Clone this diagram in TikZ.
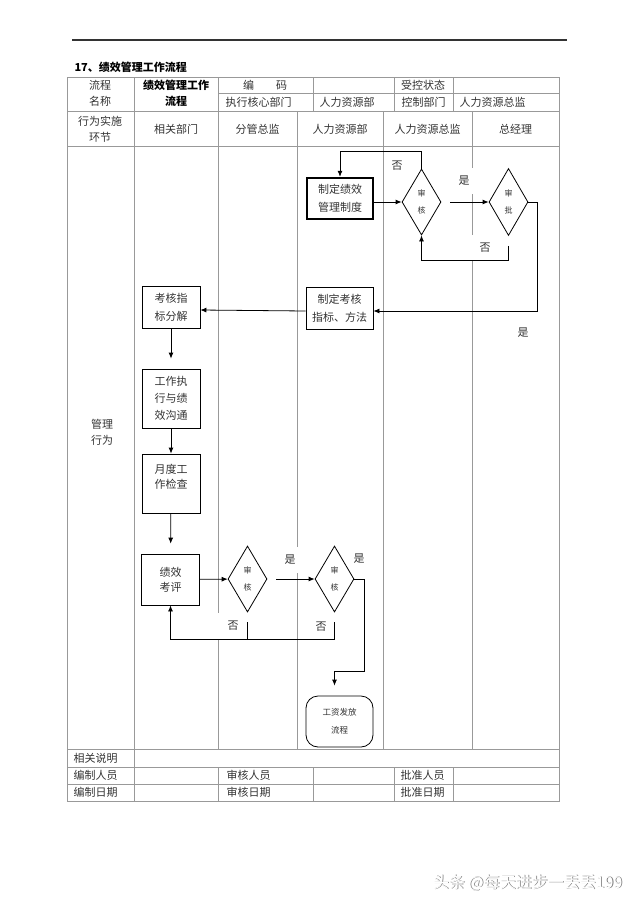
\documentclass[tikz,border=0pt]{standalone}
\usepackage{fontspec}
\setmainfont{Noto Sans CJK SC}
\usetikzlibrary{arrows,arrows.meta,shapes.geometric}

\begin{document}
\begin{tikzpicture}
      [x=1pt,y=-1pt,>={Latex[length=6pt,width=5pt]},every node/.style={text=black!80,align=center,font=\fontsize{11}{16}\selectfont}]

      \tikzstyle{grid} = [draw=black!40,line width=0.9pt]
      \tikzstyle{box} = [draw=black,line width=0.8pt,minimum width=58pt,minimum height=42pt,inner sep=1pt,font=\fontsize{11}{18}\selectfont]
      \tikzstyle{dia} = [draw=black,diamond,line width=0.8pt,minimum width=39pt,minimum height=66pt,inner sep=0pt,font=\fontsize{8}{17}\selectfont]
      \tikzstyle{flow} = [->,line width=0.8pt]
      \tikzstyle{gap} = [fill=white,minimum width=28pt,minimum height=26pt,inner sep=0pt]

      \useasboundingbox (0,0) rectangle (640,905);

      % title
      \draw[line width=1.1pt,black!80] (72,40) -- (567,40);
      \node[anchor=west,text=black,font=\bfseries\fontsize{11}{14}\selectfont] (title) at (71,67) {17、绩效管理工作流程};

      % table and lanes
      \draw[grid] (67,77) rectangle (559,801);
      \draw[grid] (218,93) -- (559,93);
      \foreach \y in {111,146,749,767,784}
            \draw[grid] (67,\y) -- (559,\y);
      \draw[grid] (134,77) -- (134,801);
      \draw[grid] (218,77) -- (218,749) (218,767) -- (218,801);
      \foreach \x in {313,394,453}
            \draw[grid] (\x,77) -- (\x,111) (\x,767) -- (\x,801);
      \foreach \x in {297,383,472}
            \draw[grid] (\x,111) -- (\x,749);

      % header texts
      \node (h1) at (100,93) {流程\\名称};
      \node[font=\bfseries\fontsize{11}{16}\selectfont,text=black] (h2) at (176,93) {绩效管理工作\\流程};
      \node (h3) at (265,85) {编\quad\quad 码};
      \node (h4) at (423,85) {受控状态};
      \node[anchor=west] (h5) at (222,102) {执行核心部门};
      \node[anchor=west] (h6) at (316,102) {人力资源部};
      \node[anchor=west] (h7) at (398,102) {控制部门};
      \node[anchor=west] (h8) at (456,102) {人力资源总监};
      \node (h9) at (100,129) {行为实施\\环节};
      \node (l1) at (176,129) {相关部门};
      \node (l2) at (257.5,129) {分管总监};
      \node (l3) at (340,129) {人力资源部};
      \node (l4) at (427.5,129) {人力资源总监};
      \node (l5) at (515.5,129) {总经理};
      \node (act) at (102,432) {管理\\行为};

      % footer texts
      \node[anchor=west] (f1) at (70,758) {相关说明};
      \node[anchor=west] (f2) at (70,775.5) {编制人员};
      \node[anchor=west] (f3) at (70,792.5) {编制日期};
      \node[anchor=west] (f4) at (223,775.5) {审核人员};
      \node[anchor=west] (f5) at (223,792.5) {审核日期};
      \node[anchor=west] (f6) at (397,775.5) {批准人员};
      \node[anchor=west] (f7) at (397,792.5) {批准日期};

      % labels
      \node (no1) at (397,166) {否};
      \node[gap] (yes1) at (464,181) {是};
      \node[gap] (no2) at (485,248) {否};
      \node (yes2) at (523,333) {是};
      \node[gap] (yes3) at (290,560) {是};
      \node (yes4) at (359,559) {是};
      \node[gap,minimum width=34pt] (no3) at (233,626) {否};
      \node (no4) at (321,627) {否};

      % flow
      \node[box,line width=2.4pt,minimum width=66pt,minimum height=41pt] (law) at (340,198.5) {制定绩效\\管理制度};
      \node[dia] (chk1) at (421.5,202) {审\\核};
      \node[dia,minimum height=67pt] (apr) at (508.5,202) {审\\批};
      \node[box,minimum width=67pt] (method) at (339.5,308) {制定考核\\指标、方法};
      \node[box] (split) at (171,307) {考核指\\标分解};
      \node[box,minimum height=59pt,font=\fontsize{11}{17}\selectfont] (exec) at (171,398.5) {工作执\\行与绩\\效沟通};
      \node[box,minimum height=59pt,font=\fontsize{11}{15}\selectfont] (month) at (171,483.5) {月度工\\作检查\\~};
      \node[box,minimum height=51pt,font=\fontsize{11}{15}\selectfont] (eval) at (170.5,579.5) {绩效\\考评};
      \node[dia] (chk2) at (247.5,579) {审\\核};
      \node[dia] (chk3) at (334.5,579) {审\\核};
      \node[draw=black,line width=0.8pt,rounded corners=12pt,minimum width=67pt,minimum height=51pt,font=\fontsize{8.5}{18}\selectfont] (pay) at (339.5,721.5) {工资发放\\流程};

      \draw[flow] (law.east |- chk1) -- (chk1);
      \draw[flow] (chk1.north) -- ++(0,-17) -| (law.north);
      \draw[flow] ([xshift=9pt]chk1.east) -- (apr.west);
      \draw[flow] (apr.east) -- ++(9,0) |- ([yshift=-3pt]method.east);
      \draw[flow] ([yshift=-10pt]apr.south) -- ++(0,14) -| (chk1.south);
      \draw[flow] ([yshift=-3pt]method.west) -- ([yshift=-3pt]split.east);
      \draw[flow,shorten >=10pt] (split) -- (exec);
      \draw[flow] (exec) -- (month);
      \draw[flow,shorten >=10pt] (month) -- (eval);
      \draw[flow] (eval) -- (chk2);
      \draw[flow] ([xshift=9pt]chk2.east) -- (chk3.west);
      \draw[flow,shorten >=10pt] (chk3.east) -- ++(10,0) -- ++(0,92) -| (chk3 |- pay.north);
      \draw[flow] ([yshift=-10pt]chk3.south) -- ++(0,17) -| (eval.south);
      \draw[line width=0.8pt] ([yshift=-10pt]chk2.south) -- ++(0,17);

      % mark
      \node[text=black!55,font=\fontsize{16}{18}\selectfont] (mk0) at (528.6,883.6) {头条 @每天进步一丢丢199};
      \node[text=white,font=\fontsize{16}{18}\selectfont] (mk) at (527.8,882.8) {头条 @每天进步一丢丢199};
\end{tikzpicture}
\end{document}
